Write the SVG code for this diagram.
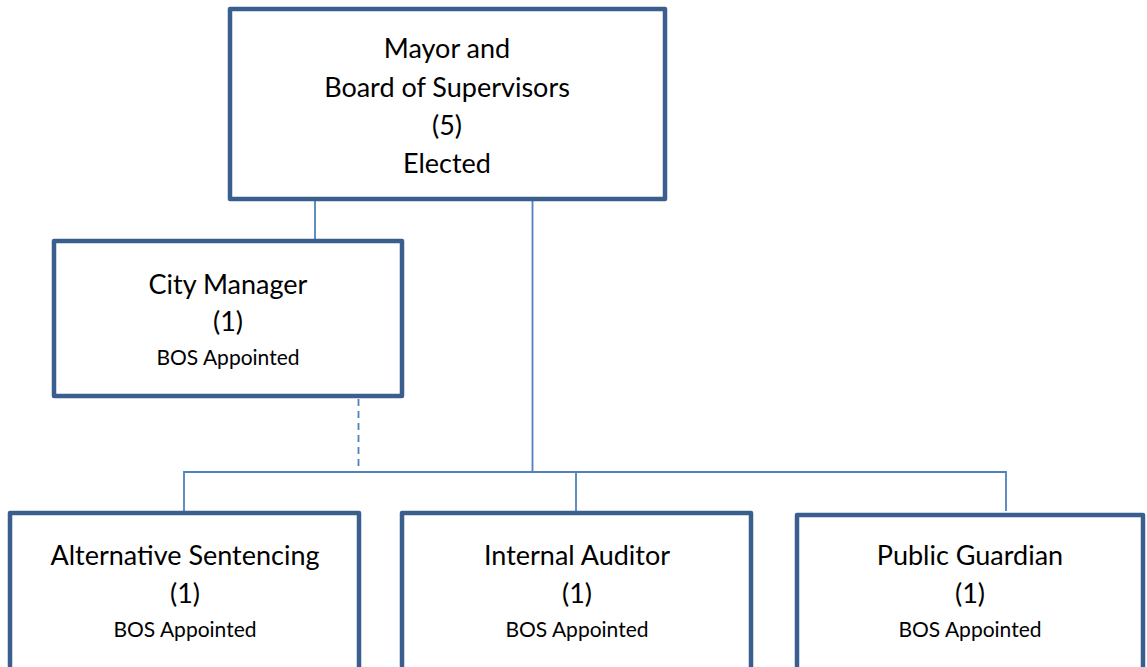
<svg xmlns="http://www.w3.org/2000/svg" width="1147" height="667" viewBox="0 0 1147 667">
<style>
.box{fill:#fff;stroke:#3A5F8F;stroke-width:4.5;stroke-linejoin:round}
.ln{stroke:#4F81BD;stroke-width:1.8;fill:none}
.dash{stroke-dasharray:7 5}
text{font-family:Lato,"Liberation Sans",sans-serif;fill:#000;text-anchor:middle}
.b{font-size:27px}
.s{font-size:21px}
</style>
<rect width="1147" height="667" fill="#fff"/>
<g id="connectors">
<line class="ln" x1="315" y1="201" x2="315" y2="239"/>
<line class="ln" x1="532.5" y1="201" x2="532.5" y2="472"/>
<line class="ln dash" x1="358.5" y1="399" x2="358.5" y2="472"/>
<polyline class="ln" points="184,511 184,472 1006,472 1006,511"/>
<line class="ln" x1="576" y1="472" x2="576" y2="511"/>
</g>
<g id="mayor">
<rect class="box" x="230" y="9" width="435" height="190"/>
<text class="b" x="447" y="58">Mayor and</text>
<text class="b" x="447" y="97">Board of Supervisors</text>
<text class="b" x="447" y="135">(5)</text>
<text class="b" x="447" y="173">Elected</text>
</g>
<g id="city-manager">
<rect class="box" x="54" y="241" width="348" height="155"/>
<text class="b" x="228" y="294">City Manager</text>
<text class="b" x="228" y="331">(1)</text>
<text class="s" x="228" y="365">BOS Appointed</text>
</g>
<g id="alternative-sentencing">
<rect class="box" x="10" y="513" width="349" height="170"/>
<text class="b" x="185" y="565">Alternative Sentencing</text>
<text class="b" x="185" y="603">(1)</text>
<text class="s" x="185" y="637">BOS Appointed</text>
</g>
<g id="internal-auditor">
<rect class="box" x="402" y="513" width="349" height="170"/>
<text class="b" x="577" y="565">Internal Auditor</text>
<text class="b" x="577" y="603">(1)</text>
<text class="s" x="577" y="637">BOS Appointed</text>
</g>
<g id="public-guardian">
<rect class="box" x="797" y="515" width="346" height="170"/>
<text class="b" x="970" y="565">Public Guardian</text>
<text class="b" x="970" y="603">(1)</text>
<text class="s" x="970" y="637">BOS Appointed</text>
</g>
</svg>
